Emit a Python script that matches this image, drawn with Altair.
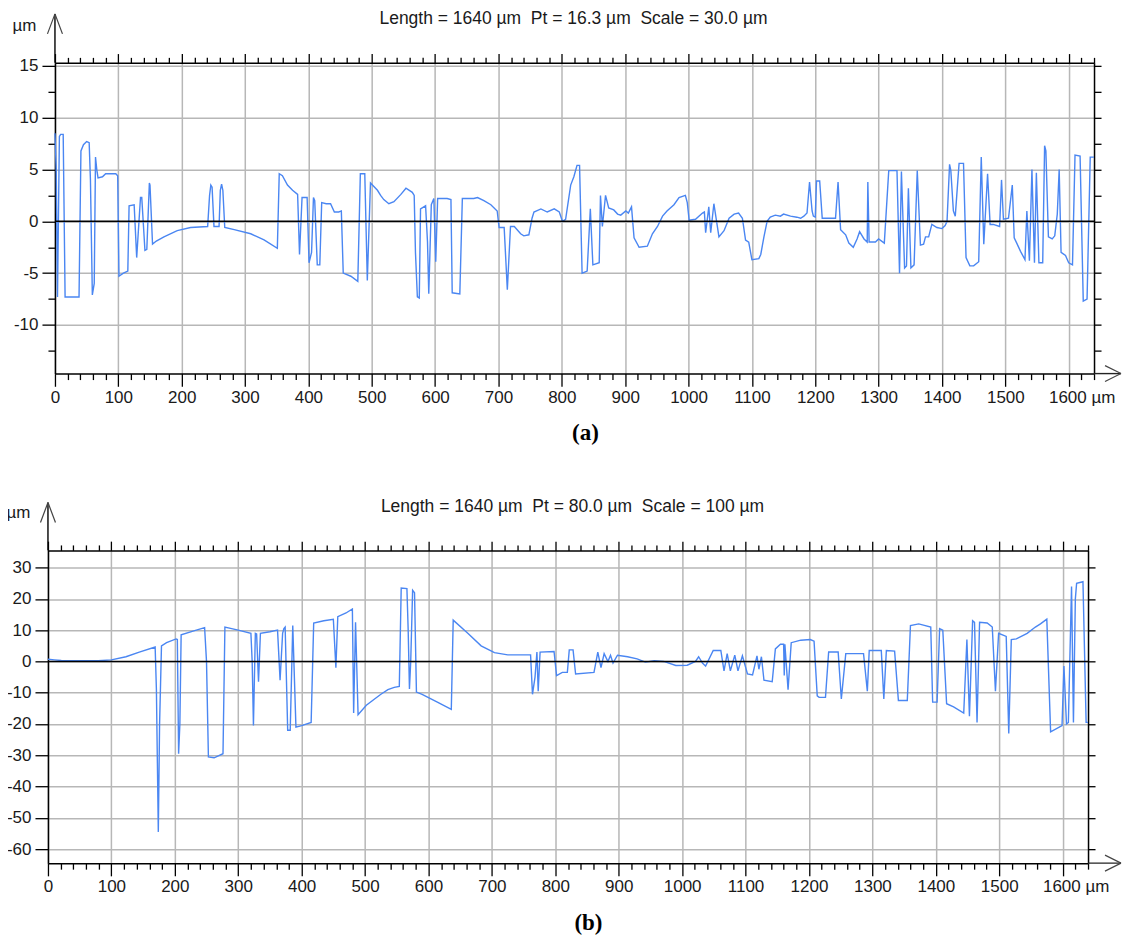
import altair as alt
import pandas as pd

# ---------------- data ----------------
TOP_X = [0, 2, 4, 7, 9, 13, 16, 38, 41, 45, 50, 54, 56, 59, 62, 64, 66, 68, 75, 80, 96, 99, 101, 108, 115,
         117, 125, 129, 135, 137, 142, 145, 149, 150, 154, 160, 172, 193, 214, 241, 244, 246, 248, 251, 259,
         261, 263, 265, 268, 283, 309, 330, 351, 354, 359, 367, 375, 383, 386, 390, 398, 401, 405, 408, 410,
         414, 418, 421, 428, 435, 441, 448, 452, 455, 467, 478, 482, 489, 493, 498, 509, 514, 519, 527, 535,
         546, 554, 564, 567, 569, 572, 575, 577, 585, 588, 590, 594, 598, 601, 604, 619, 625, 627, 639, 643,
         661, 667, 677, 688, 698, 701, 709, 714, 719, 725, 735, 740, 748, 753, 756, 767, 777, 788, 796, 801,
         806, 814, 819, 824, 828, 832, 840, 845, 849, 859, 861, 864, 869, 874, 882, 888, 893, 901, 905, 910,
         914, 922, 935, 943, 951, 959, 966, 977, 985, 995, 998, 1001, 1011, 1022, 1025, 1027, 1032, 1035,
         1040, 1048, 1056, 1064, 1072, 1079, 1085, 1090, 1095, 1100, 1111, 1114, 1119, 1124, 1129, 1137,
         1145, 1150, 1161, 1171, 1177, 1182, 1187, 1191, 1195, 1197, 1200, 1202, 1207, 1211, 1222, 1232,
         1236, 1240, 1248, 1253, 1260, 1266, 1270, 1277, 1282, 1283, 1285, 1295, 1300, 1309, 1316, 1329,
         1333, 1336, 1341, 1344, 1347, 1351, 1356, 1361, 1366, 1371, 1374, 1379, 1384, 1392, 1400, 1405,
         1408, 1412, 1414, 1418, 1421, 1427, 1434, 1438, 1444, 1450, 1458, 1462, 1466, 1472, 1476, 1481,
         1491, 1494, 1497, 1505, 1511, 1514, 1518, 1524, 1531, 1534, 1538, 1542, 1546, 1549, 1553, 1559,
         1562, 1564, 1568, 1574, 1578, 1582, 1585, 1588, 1595, 1600, 1606, 1610, 1618, 1623, 1629, 1634,
         1640]
TOP_Y = [8.5, 5.0, -7.3, 8.2, 8.4, 8.4, -7.3, -7.3, 6.8, 7.4, 7.7, 7.6, 4.0, -7.1, -6.0, 6.2, 5.0, 4.2,
         4.3, 4.6, 4.6, 4.4, -5.3, -5.0, -4.8, 1.5, 1.6, -3.5, 2.3, 2.3, -2.8, -2.7, 3.7, 3.5, -2.2, -1.9,
         -1.5, -0.9, -0.6, -0.5, 2.5, 3.5, 3.3, -0.5, -0.5, 3.0, 3.6, 3.0, -0.6, -0.8, -1.2, -1.8, -2.6, 4.6,
         4.4, 3.5, 3.0, 2.6, -3.2, 2.3, 2.3, -4.0, -3.0, 2.3, 2.0, -4.2, -4.2, 1.8, 1.7, 1.7, 0.9, 0.9, 1.0,
         -5.0, -5.3, -5.8, 4.6, 4.6, -5.7, 3.7, 3.0, 2.5, 2.1, 1.7, 1.9, 2.6, 3.2, 2.8, 2.5, -3.0, -7.3, -7.4,
         1.2, 1.5, -2.0, -7.0, 1.6, 2.2, -3.9, 2.2, 2.2, 2.1, -6.9, -7.0, 2.2, 2.2, 2.3, 2.0, 1.6, 1.0, -0.6,
         -0.6, -6.6, -0.5, -0.5, -1.2, -1.4, -1.3, 0.3, 0.9, 1.2, 0.9, 1.2, 0.9, 0.0, 0.2, 3.5, 4.3, 5.4, 5.4,
         -5.0, -4.8, 1.2, -4.2, -4.0, 2.5, -0.5, 2.5, 1.3, 1.1, 0.7, 0.6, 1.0, 0.8, 1.4, -1.6, -2.5, -2.4,
         -1.2, -0.5, 0.5, 1.0, 1.6, 2.3, 2.5, 1.8, 0.1, 0.2, 0.8, 0.9, -1.1, 1.4, -1.1, 1.7, -1.5, -0.9, 0.3,
         0.7, 0.8, 0.3, -1.8, -2.0, -3.7, -3.6, -3.2, -1.5, 0.0, 0.4, 0.6, 0.5, 0.7, 0.5, 0.4, 0.3, 0.5, 0.8,
         3.8, 1.0, 0.5, 0.4, 3.9, 3.9, 0.3, 0.3, 0.3, 3.8, -0.8, -1.3, -2.1, -2.5, -1.7, -1.0, -1.7, -2.0, 3.8,
         -2.0, -2.0, -1.7, -2.1, 4.9, 4.9, -5.0, 4.8, -4.5, -4.3, 3.2, -4.5, -4.2, 4.9, -2.3, -2.2, -1.5,
         -1.5, -0.3, -0.6, -0.7, -0.4, 0.0, 5.5, 4.9, 1.0, 0.5, 5.6, 5.6, -3.5, -4.3, -4.3, -3.9, 6.2, -2.2,
         4.6, -0.3, -0.3, -0.5, 4.0, 0.2, 0.3, 3.5, -1.6, -2.1, -2.9, -3.7, 1.0, -3.8, 5.0, -4.0, 4.7, -4.0,
         -4.0, 7.3, 6.8, -1.5, -1.7, -1.4, 0.7, 5.0, -3.0, -3.3, -4.0, -4.2, 6.4, 6.3, -7.7, -7.5, 6.2, 6.2]

BOT_X = [0, 10, 21, 50, 79, 100, 123, 144, 169, 171, 174, 176, 179, 187, 202, 204, 206, 208, 210, 230, 247,
         250, 253, 262, 276, 279, 300, 320, 322, 324, 327, 329, 332, 335, 350, 362, 366, 370, 372, 374, 378,
         382, 386, 391, 400, 415, 419, 435, 450, 454, 457, 470, 480, 482, 485, 489, 502, 515, 525, 536, 546,
         554, 557, 566, 568, 570, 572, 575, 578, 581, 590, 614, 636, 639, 662, 683, 704, 725, 761, 764, 768,
         771, 773, 776, 798, 802, 811, 819, 822, 828, 832, 861, 867, 872, 877, 883, 887, 891, 898, 914, 929,
         942, 956, 971, 990, 1008, 1021, 1026, 1032, 1037, 1049, 1061, 1066, 1071, 1076, 1083, 1088, 1095,
         1103, 1111, 1118, 1121, 1125, 1129, 1142, 1147, 1155, 1160, 1161, 1162, 1167, 1172, 1187, 1202,
         1208, 1213, 1216, 1226, 1231, 1246, 1251, 1258, 1286, 1292, 1295, 1314, 1318, 1322, 1335, 1341,
         1355, 1360, 1373, 1392, 1395, 1402, 1406, 1411, 1417, 1428, 1444, 1449, 1453, 1458, 1461, 1465,
         1469, 1481, 1489, 1494, 1499, 1511, 1515, 1519, 1527, 1544, 1557, 1565, 1575, 1581, 1599, 1602,
         1606, 1609, 1614, 1617, 1620, 1622, 1632, 1637, 1640]
BOT_Y = [0.7, 0.5, 0.3, 0.2, 0.2, 0.5, 1.5, 3.0, 4.6, -9.0, -54.5, -20.0, 5.0, 6.0, 7.2, 7.0, -29.5, -20.0,
         8.5, 9.8, 10.8, 0.0, -30.5, -30.8, -29.5, 11.0, 10.0, 9.0, 0.0, -20.5, 9.0, 8.8, -6.5, 9.0, 9.5,
         10.0, -6.0, 9.0, 10.5, 11.0, -22.0, -22.0, 11.5, -21.0, -20.5, -19.5, 12.3, 13.0, 13.5, -2.0, 14.3,
         15.5, 16.8, -16.5, 12.5, -17.0, -14.0, -12.0, -10.5, -9.0, -8.3, -8.0, 23.5, 23.3, 10.0, -8.8, 0.0,
         22.8, 22.0, -9.8, -10.5, -13.0, -15.3, 13.2, 9.0, 5.0, 2.8, 2.1, 2.1, -10.5, -5.0, 3.0, -9.5, 3.0,
         3.2, -4.5, -3.5, -3.5, 3.7, 3.7, -4.0, -3.5, 3.0, -2.0, 2.5, 0.0, 2.0, -0.5, 2.0, 1.5, 0.8, -0.2,
         0.2, 0.0, -1.3, -1.2, 0.0, 1.5, -0.5, -1.5, 3.5, 3.5, -3.0, 2.5, -3.0, 2.0, -3.0, 1.8, -4.0, -4.3,
         1.8, -2.5, 1.5, -6.0, -6.5, 4.0, 5.5, 5.5, -4.5, 5.5, -9.0, 6.0, 6.8, 7.0, 6.5, -11.0, -11.5, -11.5,
         3.0, 3.0, -12.0, 2.5, 2.5, -9.5, 3.5, 3.5, -12.0, 3.5, 3.3, -12.5, -12.5, 11.5, 12.0, 11.0, -13.0,
         -13.0, 10.5, 10.0, -13.5, -14.5, -16.5, 7.0, -17.5, 13.0, 12.5, -19.5, 12.5, 12.3, 11.0, -9.5, 9.0,
         8.0, -23.0, 7.0, 7.2, 9.0, 11.0, 12.0, 13.5, -22.5, -20.5, -1.5, -20.0, -19.5, 24.0, -19.5, 20.0,
         25.0, 25.5, -19.5, -19.5]

X_TICKS = list(range(0, 1641, 20))
TOP_Y_TICKS = [-12.5, -10, -7.5, -5, -2.5, 0, 2.5, 5, 7.5, 10, 12.5, 15]
BOT_Y_TICKS = [-60, -50, -40, -30, -20, -10, 0, 10, 20, 30]

TOP_TITLE = "Length = 1640 µm\u00a0\u00a0Pt = 16.3 µm\u00a0\u00a0Scale = 30.0 µm"
BOT_TITLE = "Length = 1640 µm\u00a0\u00a0Pt = 80.0 µm\u00a0\u00a0Scale = 100 µm"

FONT = "Liberation Sans, Arial, sans-serif"
LINE_COLOR = "#4a86f2"
GRID_COLOR = "#b7b7b7"
FS = 17
TITLE_FS = 17.5


def panel(xs, ys, ydom, yticks, ymajor_test, width, height, xrange, axis_x,
          title, title_xy, unit_xy, letter, letter_xy):
    xscale = alt.Scale(domain=[0, 1640], nice=False, zero=False,
                       **({"range": xrange} if xrange else {}))
    yscale = alt.Scale(domain=ydom, nice=False, zero=False)
    major_x = "datum.value % 100 === 0"

    bottom_axis = alt.Axis(
        orient="bottom", values=X_TICKS, title=None,
        labelExpr="datum.value % 100 === 0 ? (datum.value === 1600 ? '1600 µm' : '' + datum.value) : ''",
        labelOverlap=False, labelFlush=False, labelFont=FONT, labelFontSize=FS,
        labelColor="#1a1a1a", labelPadding=3,
        labelOffset={"condition": {"test": "datum.value === 1600", "value": 13}, "value": 0},
        tickSize={"condition": {"test": major_x, "value": 12.7}, "value": 6},
        tickColor="black", tickWidth=1.3,
        domainColor="black", domainWidth=1.5,
        grid=True, gridColor=GRID_COLOR, gridWidth=1.5,
        gridOpacity={"condition": {"test": major_x, "value": 1}, "value": 0},
    )
    left_axis = alt.Axis(
        orient="left", values=yticks, title=None, offset=-axis_x,
        labelExpr=f"{ymajor_test} ? '' + datum.value : ''",
        labelOverlap=False, labelFlush=False, labelFont=FONT, labelFontSize=FS,
        labelColor="#1a1a1a", labelPadding=4,
        tickSize={"condition": {"test": ymajor_test, "value": 13}, "value": 7},
        tickColor="black", tickWidth=1.3,
        domainColor="black", domainWidth=1.5,
        grid=True, gridColor=GRID_COLOR, gridWidth=1.5,
        gridOpacity={"condition": {"test": ymajor_test, "value": 1}, "value": 0},
    )
    top_axis = alt.Axis(
        orient="top", values=X_TICKS, title=None, labels=False, grid=False,
        tickSize={"condition": {"test": major_x, "value": 9.3}, "value": 5.5},
        tickColor="black", tickWidth=1.3, domainColor="black", domainWidth=1.5,
    )
    right_axis = alt.Axis(
        orient="right", values=yticks, title=None, labels=False, grid=False,
        tickSize=7, tickColor="black", tickWidth=1.3, domainColor="black", domainWidth=1.5,
    )

    df = pd.DataFrame({"x": xs, "y": ys})
    line = alt.Chart(df).mark_line(color=LINE_COLOR, strokeWidth=1.4).encode(
        x=alt.X("x:Q", scale=xscale, axis=bottom_axis),
        y=alt.Y("y:Q", scale=yscale, axis=left_axis),
        order="x:Q",
    )
    zero_df = pd.DataFrame({"x": [0], "x2": [1640], "y": [0]})
    zero = alt.Chart(zero_df).mark_rule(color="black", strokeWidth=1.5).encode(
        x=alt.X("x:Q", scale=xscale, axis=top_axis),
        x2="x2:Q",
        y=alt.Y("y:Q", scale=yscale, axis=right_axis),
    )

    one = pd.DataFrame({"d": [0]})
    ax = axis_x
    top_y = -49 if axis_x else -48
    layers = [line, zero]
    # y axis extension and arrow
    layers.append(alt.Chart(one).mark_rule(color="black", strokeWidth=1.4).encode(
        x=alt.value(ax), y=alt.value(top_y), y2=alt.value(0)))
    for dx in (-7.5, 7.5):
        layers.append(alt.Chart(one).mark_rule(color="#444444", strokeWidth=1.2).encode(
            x=alt.value(ax + dx), y=alt.value(top_y + 20), x2=alt.value(ax), y2=alt.value(top_y)))
    # x axis extension and arrow
    layers.append(alt.Chart(one).mark_rule(color="#222222", strokeWidth=1.4).encode(
        x=alt.value(width), x2=alt.value(1074), y=alt.value(height)))
    for dy in (-8, 8):
        layers.append(alt.Chart(one).mark_rule(color="#444444", strokeWidth=1.2).encode(
            x=alt.value(1058), y=alt.value(height + dy), x2=alt.value(1074), y2=alt.value(height)))
    # texts
    layers.append(alt.Chart(one).mark_text(
        text=title, font=FONT, fontSize=TITLE_FS, color="#1a1a1a", align="center", baseline="middle"
    ).encode(x=alt.value(title_xy[0]), y=alt.value(title_xy[1])))
    layers.append(alt.Chart(one).mark_text(
        text="µm", font=FONT, fontSize=FS, color="#1a1a1a", align="center", baseline="middle"
    ).encode(x=alt.value(unit_xy[0]), y=alt.value(unit_xy[1])))
    layers.append(alt.Chart(one).mark_text(
        text=letter, font="Liberation Serif, Times New Roman, serif", fontSize=23,
        fontWeight="bold", color="black", align="center", baseline="middle"
    ).encode(x=alt.value(letter_xy[0]), y=alt.value(letter_xy[1])))

    return alt.layer(*layers).properties(width=width, height=height)


top = panel(TOP_X, TOP_Y, [-14.7, 15.3], TOP_Y_TICKS, "datum.value % 5 === 0",
            1047, 311, [7, 1047], 7,
            TOP_TITLE, (526, -44), (-23.5, -37), "(a)", (538, 370))
bottom = panel(BOT_X, BOT_Y, [-64.5, 35.5], BOT_Y_TICKS, "datum.value % 10 === 0",
               1041, 313, None, 0,
               BOT_TITLE, (525, -43), (-29.5, -37), "(b)", (541, 373))

chart = alt.vconcat(top, bottom, spacing=177, bounds="flush").properties(
    padding={"left": -2, "top": 1.5, "right": 0, "bottom": 0}
).configure_view(stroke=None)

chart.save("out.html", embed_options={"renderer": "svg", "actions": False})
